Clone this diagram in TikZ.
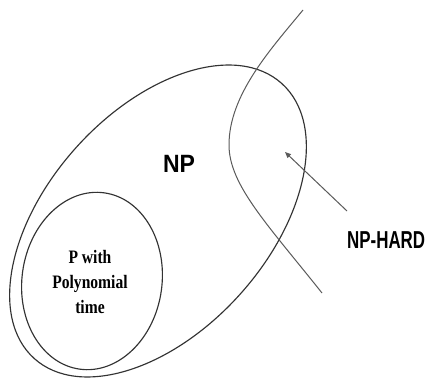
\documentclass[tikz,border=0pt]{standalone}
\usepackage{fontspec}
\setmainfont{Liberation Serif}
\newfontfamily\npfont[FakeStretch=0.92]{Liberation Sans Bold}
\newfontfamily\hardfont[FakeStretch=0.69]{Liberation Sans Bold}
\newfontfamily\pfont[FakeStretch=0.82]{Liberation Serif Bold}
\usetikzlibrary{shapes.geometric,arrows.meta}
\definecolor{setline}{HTML}{333333}
\definecolor{hardline}{HTML}{5A5A5A}
\tikzset{
  setshape/.style={draw=setline, line width=1.15pt, ellipse, inner sep=0pt},
  hardcurve/.style={draw=hardline, line width=1pt},
  pointer/.style={draw=hardline, line width=1pt, -{Triangle[length=6pt,width=5pt]}},
  label/.style={inner sep=0pt, text=black}
}
\begin{document}
\begin{tikzpicture}[x=1pt,y=1pt]
\useasboundingbox (0,0) rectangle (426,378);
\clip (0,0) rectangle (426,378);
\fill[white] (0,0) rectangle (426,378);
% NP set
\node[setshape, minimum width=370pt, minimum height=220pt, rotate=48] (np) at (158,157) {};
% P set
\node[setshape, minimum width=140pt, minimum height=178pt, rotate=-8] (p) at (92,97) {};
% NP-hard boundary
\coordinate (h1) at (303,368);
\coordinate (h2) at (229,233);
\coordinate (h3) at (322,85);
\draw[hardcurve] (h1) .. controls (270,328) and (229,283) .. (h2)
  .. controls (229,193) and (268,153) .. (h3);
% labels
\node[label, font=\npfont\fontsize{25}{30}\selectfont] (nplabel) at (179,214) {NP};
\node[label, align=center, font=\pfont\fontsize{19}{25}\selectfont] (plabel) at (90,96) {P with\\Polynomial\\time};
\node[label, anchor=west, font=\hardfont\fontsize{24.5}{30}\selectfont] (hardlabel) at (347,138) {NP-HARD};
% arrow
\coordinate (tail) at (347,167);
\coordinate (tip) at (285,226);
\draw[pointer] (tail) -- (tip);
\end{tikzpicture}
\end{document}
